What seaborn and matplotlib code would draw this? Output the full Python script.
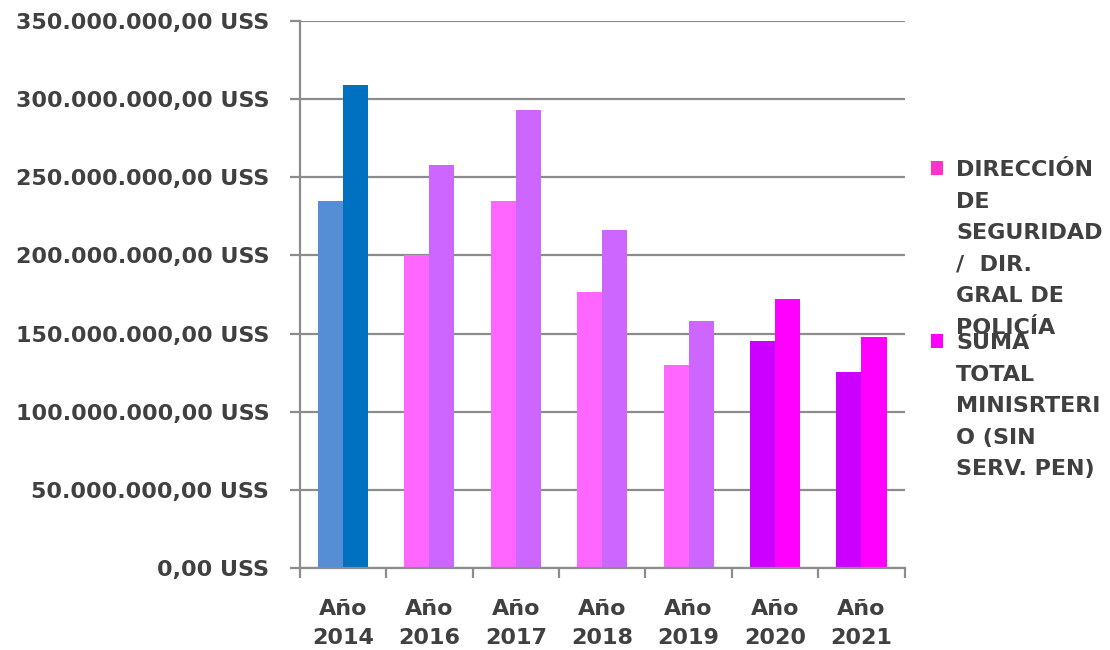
import numpy as np
import pandas as pd
import matplotlib
matplotlib.use("Agg")
import matplotlib.pyplot as plt
import seaborn as sns
from matplotlib.patches import Patch, Rectangle
from matplotlib.ticker import FuncFormatter, FixedLocator

# ---- data ----
years = ["Año\n2014", "Año\n2016", "Año\n2017", "Año\n2018", "Año\n2019", "Año\n2020", "Año\n2021"]
serie_labels = ["DIRECCIÓN DE SEGURIDAD / DIR. GRAL DE POLICÍA",
                "SUMA TOTAL MINISRTERIO (SIN SERV. PEN)"]
direccion = [234.8e6, 200.0e6, 234.8e6, 176.3e6, 130.1e6, 145.1e6, 125.6e6]
suma_total = [309.2e6, 258.1e6, 293.1e6, 216.4e6, 158.3e6, 171.8e6, 147.6e6]

# per-bar colours (the original mixes colours per year)
colors_left = ["#558ED5", "#FF66FF", "#FF66FF", "#FF66FF", "#FF66FF", "#CC00FF", "#CC00FF"]
colors_right = ["#0070C0", "#CC66FF", "#CC66FF", "#CC66FF", "#CC66FF", "#FF00FF", "#FF00FF"]
legend_colors = ["#FF33CC", "#FF00FF"]

legend_lines_1 = ["DIRECCIÓN", "DE", "SEGURIDAD", "/  DIR.", "GRAL DE", "POLICÍA"]
legend_lines_2 = ["SUMA", "TOTAL", "MINISRTERI", "O (SIN", "SERV. PEN)"]

df = pd.DataFrame({
    "year": years * 2,
    "serie": [serie_labels[0]] * len(years) + [serie_labels[1]] * len(years),
    "value": direccion + suma_total,
})

sns.set_theme(style="white")
plt.rcParams['font.family'] = ['DejaVu Sans']
TXT = "#404040"
GRID = "#8C8C8C"
FS = 16

fig = plt.figure(figsize=(11.1, 6.5), dpi=100)
ax = fig.add_axes([0.270, 0.126, 0.545, 0.842])

sns.barplot(data=df, x="year", y="value", hue="serie", order=years,
            hue_order=serie_labels, width=0.58, saturation=1, errorbar=None,
            legend=False, ax=ax)

for bar, c in zip(ax.containers[0], colors_left):
    bar.set_facecolor(c)
    bar.set_edgecolor("none")
for bar, c in zip(ax.containers[1], colors_right):
    bar.set_facecolor(c)
    bar.set_edgecolor("none")

ax.set_ylim(0, 350e6)
ax.set_xlim(-0.5, len(years) - 0.5)
ax.set_yticks(np.arange(0, 350e6 + 1, 50e6))


def uss(v, pos):
    s = f"{v:,.2f}".replace(",", "X").replace(".", ",").replace("X", ".")
    return f"{s} USS"


ax.yaxis.set_major_formatter(FuncFormatter(uss))
ax.yaxis.grid(True, color=GRID, linewidth=1.6)
ax.set_axisbelow(True)
ax.set_xlabel("")
ax.set_ylabel("")

for s in ["top", "right"]:
    ax.spines[s].set_visible(False)
for s in ["left", "bottom"]:
    ax.spines[s].set_color(GRID)
    ax.spines[s].set_linewidth(1.6)

ax.tick_params(axis="y", length=7, width=1.6, color=GRID, pad=15,
               labelsize=FS, labelcolor=TXT, left=True)
ax.tick_params(axis="x", which="major", length=0, pad=22,
               labelsize=FS, labelcolor=TXT)
ax.xaxis.set_minor_locator(FixedLocator(np.arange(-0.5, len(years), 1.0)))
ax.tick_params(axis="x", which="minor", length=7, width=1.6, color=GRID,
               bottom=True)
for t in ax.get_yticklabels() + ax.get_xticklabels():
    t.set_fontweight("bold")
for t in ax.get_xticklabels():
    t.set_linespacing(1.6)

# legend, one row per wrapped line, marker on the first line of each entry
blank = Rectangle((0, 0), 1, 1, fill=False, edgecolor="none", visible=False)
h1 = [Patch(facecolor=legend_colors[0], edgecolor="none")] + [blank] * (len(legend_lines_1) - 1)
h2 = [Patch(facecolor=legend_colors[1], edgecolor="none")] + [blank] * (len(legend_lines_2) - 1)
leg_kw = dict(frameon=False, handlelength=0.55, handleheight=0.55,
              handletextpad=0.58, labelspacing=0.52, borderpad=0, borderaxespad=0,
              prop={"size": FS, "weight": "bold"}, labelcolor=TXT, loc="upper left")
leg1 = fig.legend(h1, legend_lines_1, bbox_to_anchor=(931 / 1110, 1 - 160 / 650), **leg_kw)
leg2 = fig.legend(h2, legend_lines_2, bbox_to_anchor=(931 / 1110, 1 - 333 / 650), **leg_kw)

fig.savefig("out.png", dpi=100)
